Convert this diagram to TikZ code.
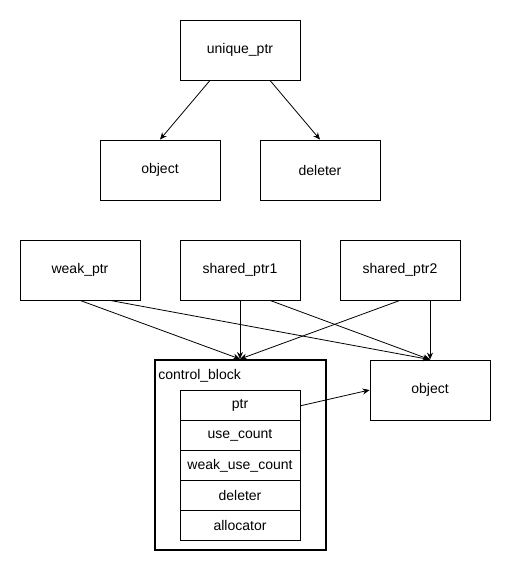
\documentclass[tikz,border=0pt]{standalone}
\usepackage{fontspec}
\setmainfont{Liberation Sans}
\usetikzlibrary{arrows.meta,positioning}
\begin{document}
\begin{tikzpicture}[x=1pt, y=1pt, line width=0.8pt, >={Stealth[length=7pt,width=6pt]},
    every node/.style={inner sep=0pt, rectangle, text centered, font=\fontsize{14}{16}\selectfont},
    box/.style={draw, minimum width=120pt, minimum height=60pt},
    field/.style={draw, minimum width=120pt, minimum height=30pt},
    link/.style={->, line width=0.8pt}]
\useasboundingbox (0,0) rectangle (511,-572);

% unique_ptr
\node [box] (uptr) at (240,-50) {unique\_ptr};
\node [box] (uobj) at (160,-170) {object};
\node [box] (udel) at (320,-170) {deleter};
\draw [link] ([xshift=-30pt]uptr.south) -- (uobj.north);
\draw [link] ([xshift=30pt]uptr.south) -- (udel.north);

% shared_ptr / weak_ptr
\node [box] (wptr) at (80,-270) {weak\_ptr};
\node [box] (sptr1) at (240,-270) {shared\_ptr1};
\node [box] (sptr2) at (400,-270) {shared\_ptr2};
\node [draw, line width=2pt, minimum width=171pt, minimum height=190pt] (cb) at (240,-455) {};
\node [anchor=west] (cblabel) at (158,-376) {control\_block};
\matrix (cbm) [row sep=-\pgflinewidth, anchor=north] at (240,-390)
{
\node [field] (ptr) {ptr}; \\
\node [field] (usecnt) {use\_count}; \\
\node [field] (weakcnt) {weak\_use\_count}; \\
\node [field] (del) {deleter}; \\
\node [field] (alloc) {allocator}; \\
};
\node [box] (sobj) at (430,-390) {object};

\draw [link] (wptr.south) -- (cb.north);
\draw [link] ([xshift=30pt]wptr.south) -- (sobj.north);
\draw [link] (sptr1.south) -- (cb.north);
\draw [link] ([xshift=30pt]sptr1.south) -- (sobj.north);
\draw [link] (sptr2.south) -- (cb.north);
\draw [link] ([xshift=30pt]sptr2.south) -- (sobj.north);
\draw [link] (ptr.east) -- (sobj.west);

\end{tikzpicture}
\end{document}
